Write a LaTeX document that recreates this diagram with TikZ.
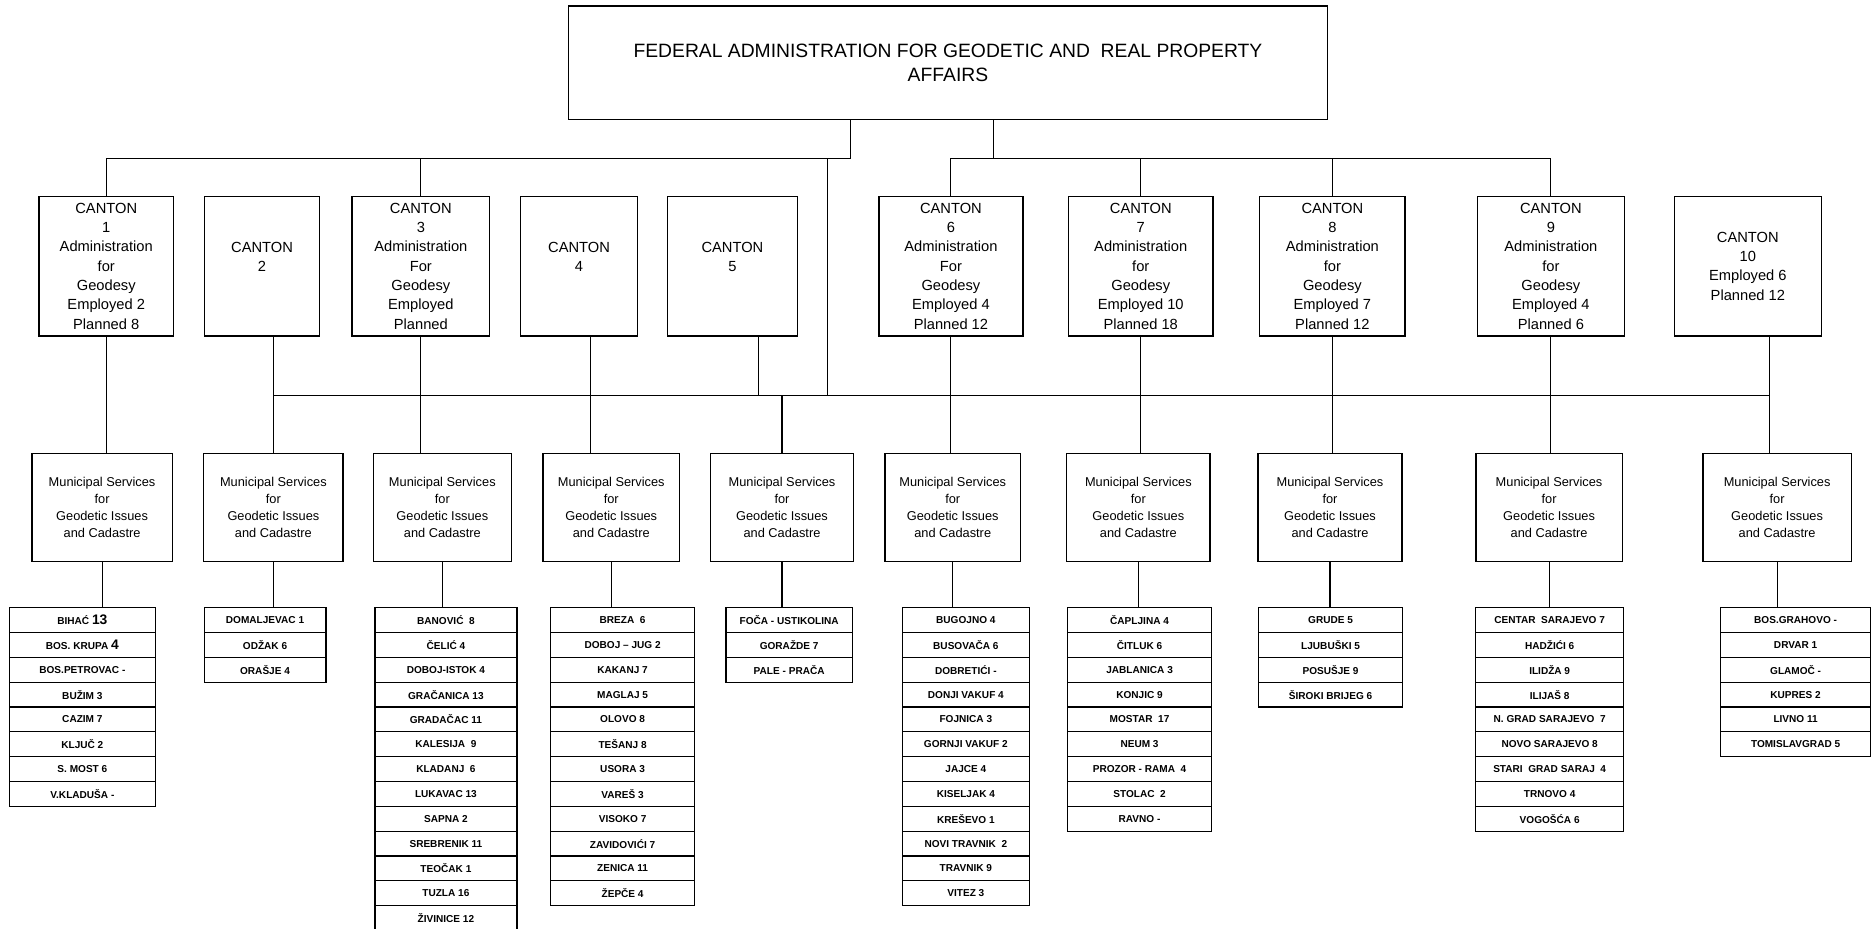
\documentclass[tikz,border=0pt]{standalone}
\usepackage{fontspec}
\setmainfont{Liberation Sans}
\usetikzlibrary{positioning,calc}

\newcommand{\bignum}[1]{{\fontsize{6.6}{6.6}\selectfont #1}}
% one column of town rows: name, centre x, width, items
\newcommand{\townlist}[4]{%
  \foreach \townname [count=\i] in {#4}
    \node (#1-\i) [townbox, minimum width=#3cm] at (#2,{-10.18-0.416*(\i-0.5)}) {\townname};%
}

\begin{document}
\begin{tikzpicture}[
    cantonbox/.style={draw, line width=0.6pt, align=center, inner sep=0pt, minimum height=2.34cm, font=\fontsize{7}{9.2}\selectfont},
    munibox/.style={draw, line width=0.6pt, align=center, inner sep=0pt, minimum height=1.8cm, font=\fontsize{6.1}{8.2}\selectfont},
    townbox/.style={draw, line width=0.6pt, inner sep=0pt, minimum height=0.416cm, font=\fontsize{4.8}{5}\selectfont\bfseries},
    link/.style={line width=0.5pt}
]
    \useasboundingbox (0,0) rectangle (31.36,-15.56);
    \clip (0,0) rectangle (31.36,-15.56);

    % head office
    \node (fed) [draw, line width=0.6pt, align=center, minimum width=12.72cm, minimum height=1.9cm, font=\fontsize{9.2}{11.4}\selectfont] at (15.88,-1.05) {FEDERAL ADMINISTRATION FOR GEODETIC AND\ \ REAL PROPERTY\\AFFAIRS};

    % cantons
    \node (c1) [cantonbox, minimum width=2.25cm] at (1.78,-4.46) {CANTON\\1\\Administration\\for\\Geodesy\\Employed 2\\Planned 8};
    \node (c2) [cantonbox, minimum width=1.92cm] at (4.39,-4.46) {CANTON\\2\\~};
    \node (c3) [cantonbox, minimum width=2.31cm] at (7.05,-4.46) {CANTON\\3\\Administration\\For\\Geodesy\\Employed\\Planned};
    \node (c4) [cantonbox, minimum width=1.96cm] at (9.70,-4.46) {CANTON\\4\\~};
    \node (c5) [cantonbox, minimum width=2.18cm] at (12.27,-4.46) {CANTON\\5\\~};
    \node (c6) [cantonbox, minimum width=2.41cm] at (15.93,-4.46) {CANTON\\6\\Administration\\For\\Geodesy\\Employed 4\\Planned 12};
    \node (c7) [cantonbox, minimum width=2.42cm] at (19.11,-4.46) {CANTON\\7\\Administration\\for\\Geodesy\\Employed 10\\Planned 18};
    \node (c8) [cantonbox, minimum width=2.43cm] at (22.32,-4.46) {CANTON\\8\\Administration\\for\\Geodesy\\Employed 7\\Planned 12};
    \node (c9) [cantonbox, minimum width=2.46cm] at (25.98,-4.46) {CANTON\\9\\Administration\\for\\Geodesy\\Employed 4\\Planned 6};
    \node (c10) [cantonbox, minimum width=2.47cm] at (29.28,-4.46) {CANTON\\10\\Employed 6\\Planned 12};

    % municipal services
    \foreach \k/\x/\w in {1/1.71/2.35, 2/4.58/2.33, 3/7.41/2.31, 4/10.24/2.29, 5/13.10/2.39,
                          6/15.96/2.27, 7/19.07/2.40, 8/22.28/2.41, 9/25.95/2.45, 10/29.77/2.48}
        \node (m\k) [munibox, minimum width=\w cm] at (\x,-8.5) {Municipal Services\\for\\Geodetic Issues\\and Cadastre};

    % towns
    \townlist{l1}{1.38}{2.44}{BIHAĆ \bignum{13}, BOS. KRUPA \bignum{4}, BOS.PETROVAC -, BUŽIM 3, CAZIM 7, KLJUČ 2, S. MOST 6, V.KLADUŠA -}
    \townlist{l2}{4.44}{2.04}{DOMALJEVAC 1, ODŽAK 6, ORAŠJE 4}
    \townlist{l3}{7.47}{2.38}{BANOVIĆ\ \ 8, ČELIĆ 4, DOBOJ-ISTOK 4, GRAČANICA 13, GRADAČAC 11, KALESIJA\ \ 9, KLADANJ\ \ 6, LUKAVAC 13, SAPNA 2, SREBRENIK 11, TEOČAK 1, TUZLA 16, ŽIVINICE 12}
    \townlist{l4}{10.43}{2.42}{BREZA\ \ 6, DOBOJ – JUG 2, KAKANJ 7, MAGLAJ 5, OLOVO 8, TEŠANJ 8, USORA 3, VAREŠ 3, VISOKO 7, ZAVIDOVIĆI 7, ZENICA 11, ŽEPČE 4}
    \townlist{l5}{13.22}{2.12}{FOČA - USTIKOLINA, GORAŽDE 7, PALE - PRAČA}
    \townlist{l6}{16.18}{2.12}{BUGOJNO 4, BUSOVAČA 6, DOBRETIĆI -, DONJI VAKUF 4, FOJNICA 3, GORNJI VAKUF 2, JAJCE 4, KISELJAK 4, KREŠEVO 1, NOVI TRAVNIK\ \ 2, TRAVNIK 9, VITEZ 3}
    \townlist{l7}{19.09}{2.42}{ČAPLJINA 4, ČITLUK 6, JABLANICA 3, KONJIC 9, MOSTAR\ \ 17, NEUM 3, PROZOR - RAMA\ \ 4, STOLAC\ \ 2, RAVNO -}
    \townlist{l8}{22.29}{2.42}{GRUDE 5, LJUBUŠKI 5, POSUŠJE 9, ŠIROKI BRIJEG 6}
    \townlist{l9}{25.96}{2.48}{CENTAR\ \ SARAJEVO 7, HADŽIĆI 6, ILIDŽA 9, ILIJAŠ 8, N. GRAD SARAJEVO\ \ 7, NOVO SARAJEVO 8, STARI\ \ GRAD SARAJ\ \ 4, TRNOVO 4, VOGOŠĆA 6}
    \townlist{l10}{30.08}{2.52}{BOS.GRAHOVO -, DRVAR 1, GLAMOČ -, KUPRES 2, LIVNO 11, TOMISLAVGRAD 5}

    % head office to cantons
    \coordinate (lbus) at (14.24,-2.65);
    \coordinate (rbus) at (16.64,-2.65);
    \coordinate (mid) at (13.86,-2.65);
    \coordinate (bus) at (0,-6.62);
    \draw[link] (fed.south -| lbus) -- (lbus) -| (c1.north);
    \draw[link] (c3.north) -- (c3.north |- lbus);
    \draw[link] (fed.south -| rbus) -- (rbus);
    \draw[link] (c6.north) |- (c9.north |- rbus) -- (c9.north);
    \foreach \k in {7,8}
        \draw[link] (c\k.north) -- (c\k.north |- rbus);

    % lower bus
    \draw[link] (mid) -- (mid |- bus);
    \draw[link] (m2.north |- bus) -- ([xshift=0.36cm]c10.south |- bus);

    % cantons to municipal services
    \draw[link] (c1.south) -- (c1.south |- m1.north);
    \draw[link] (m2.north |- c2.south) -- (m2.north);
    \draw[link] (c3.south) -- (c3.south |- m3.north);
    \draw[link] ([xshift=0.19cm]c4.south) -- ([xshift=0.19cm]c4.south |- m4.north);
    \draw[link] ([xshift=0.43cm]c5.south) -- ([xshift=0.43cm]c5.south |- bus);
    \draw[link] (m5.north |- bus) -- (m5.north);
    \foreach \k in {6,...,9}
        \draw[link] (c\k.south) -- (c\k.south |- m\k.north);
    \draw[link] ([xshift=0.36cm]c10.south) -- ([xshift=0.36cm]c10.south |- m10.north);

    % municipal services to towns
    \foreach \k in {1,...,10}
        \draw[link] (m\k.south) -- (m\k.south |- l\k-1.north);
\end{tikzpicture}
\end{document}
